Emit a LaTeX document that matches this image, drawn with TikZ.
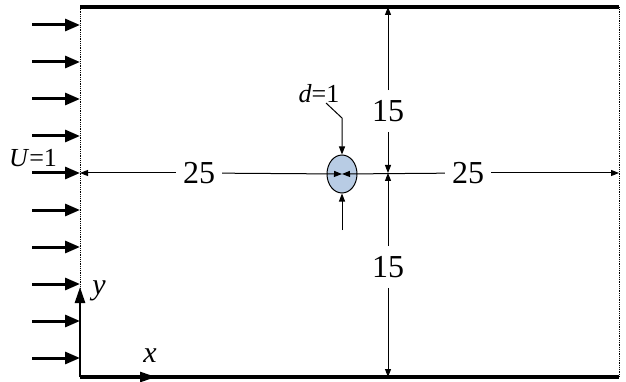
\documentclass[tikz,border=0pt]{standalone}
\usepackage{fontspec}
\setmainfont{Liberation Serif}
\usetikzlibrary{arrows.meta,shapes.geometric}
\definecolor{cylfill}{HTML}{B8CCE4}
\tikzset{
  wall/.style={line width=3.2pt},
  openbc/.style={densely dotted, line width=0.8pt},
  inflow/.style={line width=3pt, -{Triangle[length=15pt,width=12pt]}},
  axisline/.style={line width=2.6pt, -{Triangle[length=16pt,width=10pt]}},
  dimline/.style={line width=1pt, -{Triangle[length=8pt,width=6pt]}},
  dimlabel/.style={font=\fontsize{32}{32}\selectfont, inner xsep=7pt, inner ysep=10pt},
  namelabel/.style={font=\fontsize{26}{26}\selectfont, inner sep=0pt},
  axislabel/.style={font=\fontsize{30}{30}\selectfont\itshape, inner sep=0pt},
  cylbody/.style={ellipse, draw, fill=cylfill, line width=1pt,
                  minimum width=30pt, minimum height=38pt, inner sep=0pt},
}

\begin{document}
\begin{tikzpicture}[x=1pt, y=-1pt]
    \useasboundingbox (0,0) rectangle (626,382);
    \coordinate (inTop) at (80,7);
    \coordinate (inBot) at (80,377);
    \coordinate (outTop) at (619,7);
    \coordinate (outBot) at (619,377);
    \coordinate (inMid) at (80,173);
    \coordinate (outMid) at (619,173);
    \coordinate (dimTop) at (388,7);
    \coordinate (dimMid) at (388,173);
    \coordinate (dimBot) at (388,377);
    \draw[openbc] (inTop) -- (inBot);
    \draw[openbc] (outTop) -- (outBot);
    \draw[wall] (inTop) -- (outTop);
    \draw[wall] (inBot) -- (outBot);
    \foreach \i in {0,...,9} {
      \coordinate (src\i) at (32,{25+37*\i});
      \coordinate (dst\i) at (80,{25+37*\i});
      \draw[inflow] (src\i) -- (dst\i);
    }
    \node[namelabel] (uLabel) at (33,158) {\textit{U}=1};
    \coordinate (origin) at (80,377);
    \coordinate (yTip) at (80,287);
    \coordinate (xTip) at (156,377);
    \draw[axisline] (origin) -- (yTip);
    \draw[axisline] (origin) -- (xTip);
    \node[axislabel] (yLabel) at (99,291) {y};
    \node[axislabel] (xLabel) at (150,356) {x};
    \node[cylbody] (cyl) at (342,174) {};
    \node[dimlabel] (lenIn) at (199,173) {25};
    \node[dimlabel] (lenOut) at (468,173) {25};
    \draw[dimline] (lenIn) -- (inMid);
    \draw[dimline] (lenIn) -- (cyl.center);
    \draw[dimline] (lenOut) -- (cyl.center);
    \draw[dimline] (lenOut) -- (outMid);
    \node[dimlabel] (hTop) at (388,111) {15};
    \node[dimlabel] (hBot) at (388,267) {15};
    \draw[dimline] (hTop) -- (dimTop);
    \draw[dimline] (hTop) -- (dimMid);
    \draw[dimline] (hBot) -- (dimMid);
    \draw[dimline] (hBot) -- (dimBot);
    \node[namelabel] (dLabel) at (319,94) {\textit{d}=1};
    \coordinate (dKnee) at (326,103);
    \coordinate (dTopStart) at (342,118);
    \coordinate (dBotStart) at (342,230);
    \draw[dimline] (dKnee) -- (dTopStart) -- (cyl.north);
    \draw[dimline] (dBotStart) -- (cyl.south);
\end{tikzpicture}
\end{document}
